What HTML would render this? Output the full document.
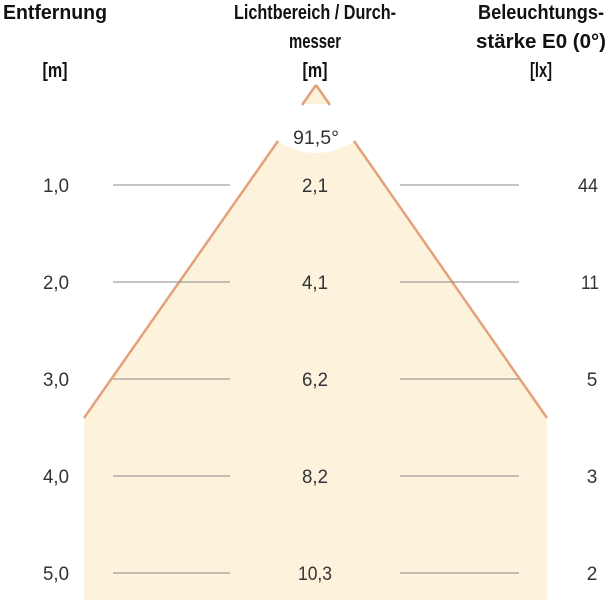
<!DOCTYPE html>
<html><head><meta charset="utf-8"><style>html,body{margin:0;padding:0;background:#fff}svg{display:block}</style></head>
<body>
<svg width="611" height="600" viewBox="0 0 611 600" xmlns="http://www.w3.org/2000/svg" font-family="Liberation Sans, sans-serif">
<polygon points="316,85 84,418 84,600 547,600 547,418" fill="#fdf3dc"/>
<circle cx="316" cy="85" r="68" fill="#fff"/>
<polygon points="316,85 303,104 329,104" fill="#fdf3dc"/>
<g stroke="#e3a27c" stroke-width="2.5" fill="none">
<line x1="316" y1="85" x2="302" y2="105"/><line x1="316" y1="85" x2="330" y2="105"/>
<line x1="278" y1="141" x2="84" y2="418"/><line x1="354" y1="141" x2="547" y2="418"/>
</g>
<g stroke="#888" stroke-width="1">
<line x1="113" y1="185" x2="230" y2="185"/><line x1="400" y1="185" x2="519" y2="185"/>
<line x1="113" y1="282" x2="230" y2="282"/><line x1="400" y1="282" x2="519" y2="282"/>
<line x1="113" y1="379" x2="230" y2="379"/><line x1="400" y1="379" x2="519" y2="379"/>
<line x1="113" y1="476" x2="230" y2="476"/><line x1="400" y1="476" x2="519" y2="476"/>
<line x1="113" y1="573" x2="230" y2="573"/><line x1="400" y1="573" x2="519" y2="573"/>
</g>
<g font-weight="bold" font-size="20" fill="#111" text-anchor="middle">
<text x="55" y="19" textLength="104" lengthAdjust="spacingAndGlyphs">Entfernung</text>
<text x="55" y="77" textLength="25" lengthAdjust="spacingAndGlyphs">[m]</text>
<text x="315" y="19" textLength="162" lengthAdjust="spacingAndGlyphs">Lichtbereich / Durch-</text>
<text x="315" y="48" textLength="52" lengthAdjust="spacingAndGlyphs">messer</text>
<text x="315" y="77" textLength="25" lengthAdjust="spacingAndGlyphs">[m]</text>
<text x="541" y="19" textLength="126" lengthAdjust="spacingAndGlyphs">Beleuchtungs-</text>
<text x="541" y="48" textLength="130" lengthAdjust="spacingAndGlyphs">stärke E0 (0°)</text>
<text x="541" y="77" textLength="22" lengthAdjust="spacingAndGlyphs">[lx]</text>
</g>
<g font-size="19" fill="#333" text-anchor="middle">
<text x="316" y="144" textLength="46" lengthAdjust="spacingAndGlyphs">91,5°</text>
<text x="56" y="192" textLength="26" lengthAdjust="spacingAndGlyphs">1,0</text><text x="315" y="192" textLength="26" lengthAdjust="spacingAndGlyphs">2,1</text><text x="588" y="192" textLength="20" lengthAdjust="spacingAndGlyphs">44</text>
<text x="56" y="289" textLength="26" lengthAdjust="spacingAndGlyphs">2,0</text><text x="315" y="289" textLength="26" lengthAdjust="spacingAndGlyphs">4,1</text><text x="590" y="289" textLength="18" lengthAdjust="spacingAndGlyphs">11</text>
<text x="56" y="386" textLength="26" lengthAdjust="spacingAndGlyphs">3,0</text><text x="315" y="386" textLength="26" lengthAdjust="spacingAndGlyphs">6,2</text><text x="592" y="386">5</text>
<text x="56" y="483" textLength="26" lengthAdjust="spacingAndGlyphs">4,0</text><text x="315" y="483" textLength="26" lengthAdjust="spacingAndGlyphs">8,2</text><text x="592" y="483">3</text>
<text x="56" y="580" textLength="26" lengthAdjust="spacingAndGlyphs">5,0</text><text x="315" y="580" textLength="34" lengthAdjust="spacingAndGlyphs">10,3</text><text x="592" y="580">2</text>
</g>
</svg>
</body></html>
